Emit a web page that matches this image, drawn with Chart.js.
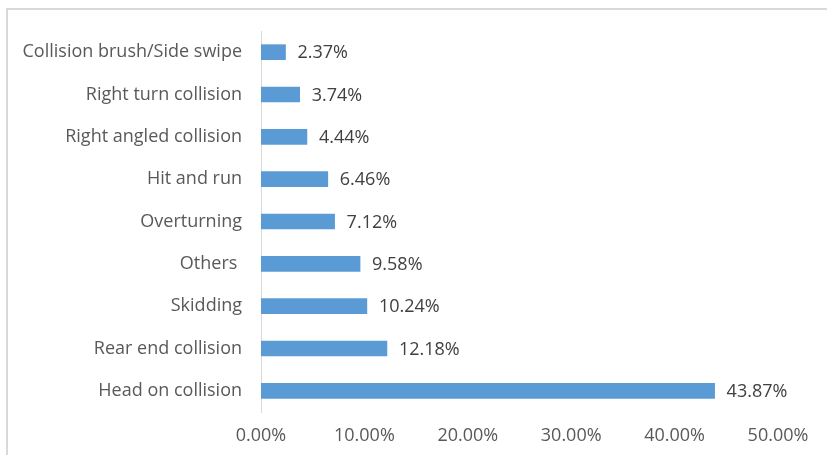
<!doctype html>
<html lang="en">
	<head>
		<meta charset="utf-8">
		<title>Collision types</title>
		<script src="https://cdn.jsdelivr.net/npm/chart.js"></script>
		<style>
			html, body { margin: 0; padding: 0; background: #fff; }
			#wrap { position: relative; width: 827px; height: 455px; }
		</style>
	</head>
	<body>
		<div id="wrap"><canvas id="crashChart"></canvas></div>
		<script>
			// categories listed top to bottom, as in the picture
			var categories = [
				'Collision brush/Side swipe',
				'Right turn collision',
				'Right angled collision',
				'Hit and run',
				'Overturning',
				'Others ',
				'Skidding',
				'Rear end collision',
				'Head on collision'
			];
			var shares = [2.37, 3.74, 4.44, 6.46, 7.12, 9.58, 10.24, 12.18, 43.87];
			var xTicks = [0, 10, 20, 30, 40, 50];

			var textColor = '#595959';
			var fontFamily = '"Open Sans", sans-serif';
			var fontSize = 18;

			// light frame around the chart (only top and left edges show)
			const framePlugin = {
				id: 'frame',
				beforeDraw(chart) {
					const ctx = chart.ctx;
					ctx.save();
					ctx.strokeStyle = '#d9d9d9';
					ctx.lineWidth = 2;
					ctx.strokeRect(7, 9, chart.width + 20, chart.height + 20);
					ctx.restore();
				}
			};

			// value labels at the end of each bar
			const valueLabels = {
				id: 'valueLabels',
				afterDatasetsDraw(chart) {
					const ctx = chart.ctx;
					const meta = chart.getDatasetMeta(0);
					ctx.save();
					ctx.fillStyle = '#404040';
					ctx.font = fontSize + 'px ' + fontFamily;
					ctx.textBaseline = 'middle';
					ctx.textAlign = 'left';
					meta.data.forEach(function (bar, i) {
						ctx.fillText(shares[i].toFixed(2) + '%', bar.x + 12, bar.y + 1);
					});
					ctx.restore();
				}
			};

			new Chart(document.getElementById('crashChart'), {
				type: 'bar',
				data: {
					labels: categories,
					datasets: [{
						data: shares,
						backgroundColor: '#5b9bd5',
						barThickness: 15
					}]
				},
				options: {
					indexAxis: 'y',
					responsive: true,
					maintainAspectRatio: false,
					animation: false,
					layout: { padding: { top: 31, right: 49, left: 0, bottom: 0 } },
					plugins: {
						legend: { display: false },
						tooltip: { enabled: false }
					},
					scales: {
						x: {
							min: 0,
							max: 50,
							afterBuildTicks(scale) {
								scale.ticks = xTicks.map(v => ({ value: v }));
							},
							afterFit(scale) { scale.height = 43; },
							grid: { display: false, drawTicks: false },
							border: { display: false },
							ticks: {
								padding: 13,
								color: textColor,
								font: { family: fontFamily, size: fontSize },
								callback: v => v.toFixed(2) + '%'
							}
						},
						y: {
							afterFit(scale) { scale.width = 261; },
							grid: { display: false, drawTicks: false },
							border: { display: true, color: '#d9d9d9', width: 1 },
							ticks: {
								padding: 19,
								color: textColor,
								font: { family: fontFamily, size: fontSize }
							}
						}
					}
				},
				plugins: [framePlugin, valueLabels]
			});
		</script>
	</body>
</html>
